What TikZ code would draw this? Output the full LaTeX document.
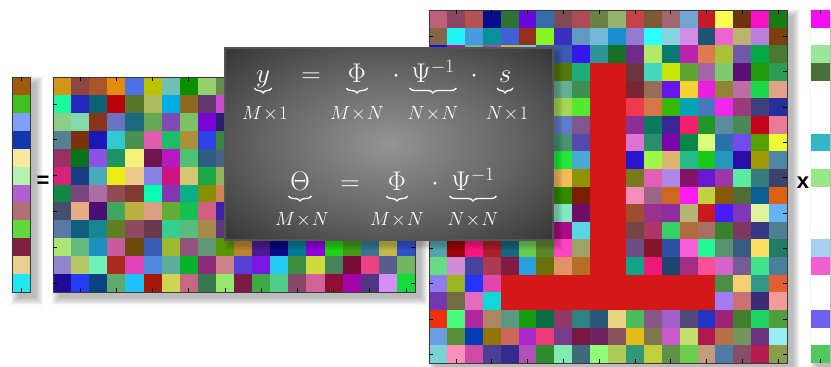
\RequirePackage{fix-cm}
\documentclass[tikz,border=0pt]{standalone}
\usepackage{fontspec}
\newfontfamily\opfont{Liberation Sans}
\usetikzlibrary{decorations.pathreplacing}
\definecolor{tred}{RGB}{212,24,24}
\definecolor{boxin}{RGB}{148,148,148}
\definecolor{boxmid}{RGB}{98,98,98}
\definecolor{boxdark}{RGB}{46,46,46}
\definecolor{boxout}{RGB}{26,26,26}
\definecolor{edge}{RGB}{58,58,58}
\pgfdeclareradialshading{panelshade}{\pgfpoint{0bp}{0bp}}{color(0bp)=(boxin); color(20bp)=(boxmid); color(38bp)=(boxdark); color(50bp)=(boxout)}

\begin{document}
\begin{tikzpicture}[x=1pt,y=-1pt,
    tick/.style={line width=0.6pt,black},
    shade/.style={black,opacity=0.035},
    frame/.style={draw=edge,line width=0.8pt},
    panel/.style={draw={rgb,255:red,84;green,84;blue,84},line width=1.4pt,shading=panelshade,
      minimum width=328pt,minimum height=192pt,inner sep=0pt},
    sym/.style={text=white,inner xsep=1.5pt,inner ysep=0pt,anchor=base,font=\fontsize{27}{30}\selectfont},
    dim/.style={text=white,inner sep=0pt,anchor=base,font=\fontsize{19}{22}\selectfont},
    ubrace/.style={draw=white,line width=1.3pt,decorate,decoration={brace,mirror,amplitude=5pt}},
    op/.style={inner sep=0pt,font=\opfont\bfseries\fontsize{22}{24}\selectfont}]
  \useasboundingbox (0,0) rectangle (831,367);
  \fill[white] (0,0) rectangle (831,367);

  % soft shadows
  \foreach \xa/\ya/\xb/\yb in {12/77/30/292,53/77/415/292,429/10/787/363,811/10/830/363}
    \foreach \k in {0,...,7}
      \fill[shade] (\xa+6-\k,\ya+6-\k) rectangle (\xb+6+\k,\yb+6+\k);

  % y vector
  \foreach \r/\g/\b [count=\i from 0] in {160/90/16,64/192/32,128/160/248,16/56/176,248/232/160,184/240/176,
      176/96/208,176/112/120,96/216/64,128/32/64,232/208/144,32/232/240}{
    \definecolor{cc}{RGB}{\r,\g,\b}
    \fill[cc] (12,77+\i*17.92) rectangle ++(18,17.92);}
  \draw[frame] (12,77) rectangle (30,292);
  \draw[tick] (21,77) -- ++(0,4);
  \draw[tick] (21,292) -- ++(0,-4);

  % Phi matrix
  \pgfmathsetseed{2024}
  \foreach \i in {0,...,11}
    \foreach \j in {0,...,19}{
      \pgfmathsetmacro\hh{rnd}
      \pgfmathsetmacro\ss{0.35+0.65*rnd}
      \pgfmathsetmacro\vv{0.42+0.58*rnd}
      \definecolor{cc}{hsb}{\hh,\ss,\vv}
      \fill[cc] (53+\j*18.1,77+\i*17.92) rectangle ++(18.1,17.92);}
  \draw[frame] (53,77) rectangle (415,292);
  \foreach \j in {1,3,...,19}{
    \draw[tick] (53+\j*18.1+9.05,77) -- ++(0,4);
    \draw[tick] (53+\j*18.1+9.05,292) -- ++(0,-4);}
  \foreach \i in {1,3,...,11}{
    \draw[tick] (53,77+\i*17.92+8.96) -- ++(4,0);
    \draw[tick] (415,77+\i*17.92+8.96) -- ++(-4,0);}

  % Psi^-1 matrix with the T
  \foreach \i in {0,...,19}
    \foreach \j in {0,...,19}{
      \pgfmathsetmacro\hh{rnd}
      \pgfmathsetmacro\ss{0.35+0.65*rnd}
      \pgfmathsetmacro\vv{0.42+0.58*rnd}
      \definecolor{cc}{hsb}{\hh,\ss,\vv}
      \fill[cc] (429+\j*17.9,10+\i*17.65) rectangle ++(17.9,17.65);}
  \fill[tred] (429+9*17.9,10+3*17.65) rectangle (429+11*17.9,10+17*17.65);
  \fill[tred] (429+4*17.9,10+15*17.65) rectangle (429+16*17.9,10+17*17.65);
  \draw[frame] (429,10) rectangle (787,363);
  \foreach \n in {1,3,...,19}{
    \draw[tick] (429+\n*17.9+8.95,10) -- ++(0,4);
    \draw[tick] (429+\n*17.9+8.95,363) -- ++(0,-4);
    \draw[tick] (429,10+\n*17.65+8.83) -- ++(4,0);
    \draw[tick] (787,10+\n*17.65+8.83) -- ++(-4,0);}

  % s vector
  \foreach \r/\g/\b [count=\i from 0] in {240/16/240,255/255/255,152/232/152,72/112/56,255/255/255,255/255/255,
      255/255/255,48/184/200,255/255/255,152/232/136,255/255/255,255/255/255,255/255/255,168/208/240,
      240/96/208,255/255/255,255/255/255,112/96/240,255/255/255,80/200/96}{
    \definecolor{cc}{RGB}{\r,\g,\b}
    \fill[cc] (811,10+\i*17.65) rectangle ++(19,17.65);}
  \draw[tick] (820.5,10) -- ++(0,4);
  \draw[tick] (820.5,363) -- ++(0,-4);

  \node[op] (eq) at (43,182) {=};
  \node[op] (times) at (803,183) {x};

  % equation panel
  \foreach \k in {0,...,5}
    \fill[shade] (225+5-\k,48+5-\k) rectangle (553+5+\k,240+5+\k);
  \node[panel] (panel) at (389,144) {};

  \node[sym] (ya) at (263,82) {$y$};
  \node[sym] (eqa) at (311,82) {$=$};
  \node[sym] (phia) at (357,82) {$\Phi$};
  \node[sym] (dota) at (396,82) {$\cdot$};
  \node[sym] (psia) at (433,82) {$\Psi^{-1}$};
  \node[sym] (dotb) at (474,82) {$\cdot$};
  \node[sym] (sa) at (505,82) {$s$};
  \node[dim] (yad) at (265,119) {$M\!\times\!1$};
  \node[dim] (phiad) at (357,119) {$M\!\times\!N$};
  \node[dim] (psiad) at (433,119) {$N\!\times\!N$};
  \node[dim] (sad) at (507,119) {$N\!\times\!1$};

  \node[sym] (theta) at (300,190) {$\Theta$};
  \node[sym] (eqb) at (350,190) {$=$};
  \node[sym] (phib) at (397,190) {$\Phi$};
  \node[sym] (dotc) at (435,190) {$\cdot$};
  \node[sym] (psib) at (473,190) {$\Psi^{-1}$};
  \node[dim] (thetad) at (302,225) {$M\!\times\!N$};
  \node[dim] (phibd) at (397,225) {$M\!\times\!N$};
  \node[dim] (psibd) at (473,225) {$N\!\times\!N$};

  \foreach \s in {ya,phia,psia,sa,theta,phib,psib}
    \draw[ubrace] ([yshift=-6pt]\s.base west) -- ([yshift=-6pt]\s.base east);
\end{tikzpicture}
\end{document}
